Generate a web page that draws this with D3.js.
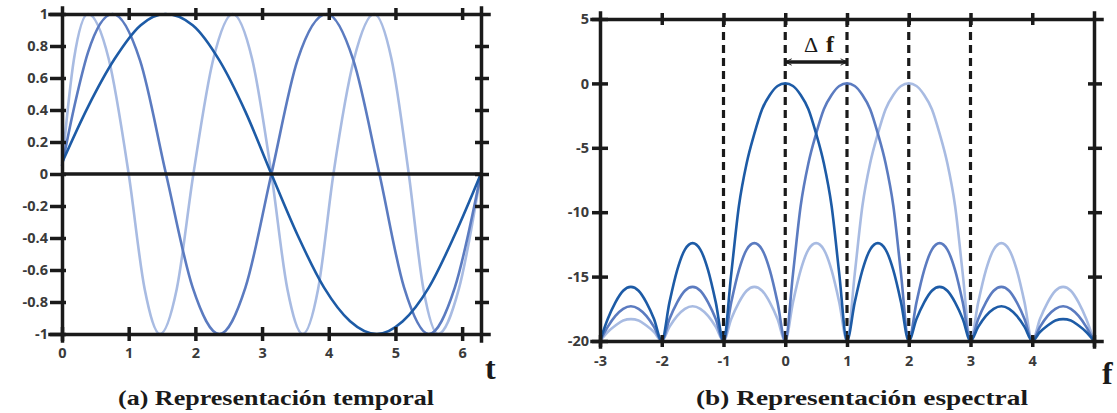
<!DOCTYPE html>
<html>
<head>
<meta charset="utf-8">
<script src="https://cdn.jsdelivr.net/npm/d3@7"></script>
<style>
  body { margin: 0; background: #fff; }
  .tick text { font-family: "Open Sans", "Liberation Sans", sans-serif; font-weight: 700; font-size: 14.5px; fill: #3a3a3a; }
  .serif { font-family: "Liberation Serif", "Times New Roman", Times, serif; font-weight: bold; fill: #1a1a1a; }
</style>
</head>
<body>
<svg id="chart" width="1117" height="413"></svg>
<script>
// ---- data: time domain ----
var darkT  = [0, 0.39, 0.79, 1.18, 1.55, 1.96, 2.36, 2.75, 3.14, 3.53, 3.93, 4.32, 4.72, 5.11, 5.50, 5.89, 6.28];
var darkV  = [0.07, 0.42, 0.72, 0.93, 1.0, 0.93, 0.71, 0.39, 0, -0.38, -0.71, -0.92, -1.0, -0.92, -0.71, -0.38, 0];
var medT   = [0, 0.2, 0.39, 0.76, 1.17, 1.56, 1.96, 2.36, 2.75, 3.14, 3.53, 3.97, 4.37, 4.76, 5.13, 5.5, 5.89, 6.28];
var medV   = [0.05, 0.45, 0.76, 1.0, 0.71, 0, -0.71, -1.0, -0.71, 0, 0.71, 1.0, 0.71, 0, -0.71, -1.0, -0.71, 0];
var lightT = [0, 0.18, 0.39, 0.7, 1.0, 1.24, 1.47, 1.72, 1.97, 2.27, 2.56, 2.85, 3.14, 3.38, 3.61, 3.84, 4.07, 4.38, 4.68, 4.94, 5.2, 5.42, 5.64, 5.95, 6.28];
var lightV = [0.05, 0.72, 1.0, 0.72, 0, -0.72, -1.0, -0.72, 0, 0.72, 1.0, 0.72, 0, -0.72, -1.0, -0.72, 0, 0.72, 1.0, 0.72, 0, -0.72, -1.0, -0.72, 0];

// ---- data: spectrum in dB ----
var freqs = [-3, -2.875, -2.75, -2.625, -2.5, -2.375, -2.25, -2.125, -2, -1.875, -1.75, -1.625, -1.5, -1.375, -1.25, -1.125,
             -1, -0.875, -0.75, -0.625, -0.5, -0.375, -0.25, -0.125, 0, 0.125, 0.25, 0.375, 0.5, 0.625, 0.75, 0.875,
             1, 1.125, 1.25, 1.375, 1.5, 1.625, 1.75, 1.875, 2, 2.125, 2.25, 2.375, 2.5, 2.625, 2.75, 2.875,
             3, 3.125, 3.25, 3.375, 3.5, 3.625, 3.75, 3.875, 4, 4.125, 4.25, 4.375, 4.5, 4.625, 4.75, 4.875, 5];
var specDark = [-20, -18.3, -17.0, -16.1, -15.8, -16.1, -17.0, -18.3, -20, -17.0, -14.5, -12.9, -12.4, -12.9, -14.5, -17.0,
                -20, -14.8, -9.5, -6.2, -3.9, -2.0, -0.9, -0.2, 0, -0.2, -0.9, -2.0, -3.9, -6.2, -9.5, -14.8,
                -20, -17.0, -14.5, -12.9, -12.4, -12.9, -14.5, -17.0, -20, -18.3, -17.0, -16.1, -15.8, -16.1, -17.0, -18.3,
                -20, -18.9, -18.05, -17.5, -17.3, -17.5, -18.05, -18.9, -20, -19.3, -18.8, -18.4, -18.3, -18.4, -18.8, -19.3, -20];
var specMed  = [-20, -18.9, -18.05, -17.5, -17.3, -17.5, -18.05, -18.9, -20, -18.3, -17.0, -16.1, -15.8, -16.1, -17.0, -18.3,
                -20, -17.0, -14.5, -12.9, -12.4, -12.9, -14.5, -17.0, -20, -14.8, -9.5, -6.2, -3.9, -2.0, -0.9, -0.2,
                0, -0.2, -0.9, -2.0, -3.9, -6.2, -9.5, -14.8, -20, -17.0, -14.5, -12.9, -12.4, -12.9, -14.5, -17.0,
                -20, -18.3, -17.0, -16.1, -15.8, -16.1, -17.0, -18.3, -20, -18.9, -18.05, -17.5, -17.3, -17.5, -18.05, -18.9, -20];
var specLight = [-20, -19.3, -18.8, -18.4, -18.3, -18.4, -18.8, -19.3, -20, -18.9, -18.05, -17.5, -17.3, -17.5, -18.05, -18.9,
                 -20, -18.3, -17.0, -16.1, -15.8, -16.1, -17.0, -18.3, -20, -17.0, -14.5, -12.9, -12.4, -12.9, -14.5, -17.0,
                 -20, -14.8, -9.5, -6.2, -3.9, -2.0, -0.9, -0.2, 0, -0.2, -0.9, -2.0, -3.9, -6.2, -9.5, -14.8,
                 -20, -17.0, -14.5, -12.9, -12.4, -12.9, -14.5, -17.0, -20, -18.3, -17.0, -16.1, -15.8, -16.1, -17.0, -18.3, -20];

// ---- ticks ----
var yTicksL = [-1, -0.8, -0.6, -0.4, -0.2, 0, 0.2, 0.4, 0.6, 0.8, 1];
var xTicksL = [0, 1, 2, 3, 4, 5, 6];
var yTicksR = [-20, -15, -10, -5, 0, 5];
var xTicksR = [-3, -2, -1, 0, 1, 2, 3, 4, 5];
var xLabelsR = [-3, -2, -1, 0, 1, 2, 3, 4];
var dashedF = [-1, 0, 1, 2, 3];

var colDark = "#1d5ba6", colMed = "#5b7bc0", colLight = "#a8bbe2";
var ink = "#1a1a1a";

var svg = d3.select("#chart");

var xL = d3.scaleLinear().domain([0, 6.283]).range([62, 481]);
var yL = d3.scaleLinear().domain([-1, 1]).range([334, 14]);
var xR = d3.scaleLinear().domain([-3, 5]).range([600, 1094]);
var yR = d3.scaleLinear().domain([-20, 5]).range([341, 19]);

function fmt(d) { return String(d); }

// draws an axis whose ticks cross the line: out = outside length, inn = inside length
function crossAxis(axis, tx, ty, out, inn, orient, labels) {
  var g = svg.append("g").attr("transform", "translate(" + tx + "," + ty + ")")
    .call(axis.tickSizeOuter(0).tickSize(out));
  g.select(".domain").attr("stroke", ink).attr("stroke-width", 3.5).attr("stroke-linecap", "square");
  g.selectAll(".tick line").attr("stroke", ink).attr("stroke-width", 3.5);
  if (orient == "left") g.selectAll(".tick line").attr("x1", inn);
  if (orient == "right") g.selectAll(".tick line").attr("x1", -inn);
  if (orient == "bottom") g.selectAll(".tick line").attr("y1", -inn);
  if (orient == "top") g.selectAll(".tick line").attr("y1", inn);
  if (!labels) g.selectAll(".tick text").remove();
  return g;
}

/* ---------- (a) time domain ---------- */
var lineL = d3.line().curve(d3.curveMonotoneX);

function timeSeries(ts, vs) { return ts.map(function (t, i) { return [xL(t), yL(vs[i])]; }); }

[[lightT, lightV, colLight], [medT, medV, colMed], [darkT, darkV, colDark]].forEach(function (s) {
  svg.append("path")
    .attr("d", lineL(timeSeries(s[0], s[1])))
    .attr("fill", "none")
    .attr("stroke", s[2])
    .attr("stroke-width", 2.6);
});

// zero line
svg.append("line")
  .attr("x1", xL(0)).attr("x2", xL(6.283))
  .attr("y1", yL(0)).attr("y2", yL(0))
  .attr("stroke", ink).attr("stroke-width", 3.5);

var gl = crossAxis(d3.axisLeft(yL).tickValues(yTicksL).tickFormat(fmt), xL(0), 0, 12, 4, "left", true);
gl.selectAll(".tick text").attr("x", -14);
var gb = crossAxis(d3.axisBottom(xL).tickValues(xTicksL).tickFormat(fmt), 0, yL(-1), 7, 7, "bottom", true);
gb.selectAll(".tick text").attr("y", 14);
crossAxis(d3.axisTop(xL).tickValues(xTicksL.slice(1)), 0, yL(1), 6, 6, "top", false);
crossAxis(d3.axisRight(yL).tickValues(yTicksL.slice(1, -1)), xL(6.283), 0, 8, 6, "right", false);

svg.append("text").attr("class", "serif").attr("x", 485).attr("y", 379)
  .attr("font-size", 32).text("t");

svg.append("text").attr("class", "serif").attr("x", 276).attr("y", 405).attr("text-anchor", "middle")
  .attr("font-size", 22)
  .attr("textLength", 316).attr("lengthAdjust", "spacingAndGlyphs")
  .text("(a) Representación temporal");

/* ---------- (b) spectrum ---------- */
dashedF.forEach(function (f) {
  svg.append("line")
    .attr("x1", xR(f)).attr("x2", xR(f))
    .attr("y1", yR(5)).attr("y2", yR(-20))
    .attr("stroke", ink).attr("stroke-width", 3.2)
    .attr("stroke-dasharray", "8,5");
});

var lineR = d3.line()
  .x(function (d) { return xR(d[0]); })
  .y(function (d) { return yR(d[1]); })
  .curve(d3.curveMonotoneX);

[[specLight, colLight], [specMed, colMed], [specDark, colDark]].forEach(function (s) {
  svg.append("path")
    .attr("d", lineR(freqs.map(function (f, i) { return [f, s[0][i]]; })))
    .attr("fill", "none")
    .attr("stroke", s[1])
    .attr("stroke-width", 2.6);
});

var gl2 = crossAxis(d3.axisLeft(yR).tickValues(yTicksR).tickFormat(fmt), xR(-3), 0, 8, 8, "left", true);
gl2.selectAll(".tick text").attr("x", -11);
var gb2 = crossAxis(d3.axisBottom(xR).tickValues(xTicksR).tickFormat(function (d) { return xLabelsR.indexOf(d) >= 0 ? String(d) : ""; }),
  0, yR(-20), 6, 6, "bottom", true);
gb2.selectAll(".tick text").attr("y", 15);
crossAxis(d3.axisTop(xR).tickValues(xTicksR.slice(1, -1)), 0, yR(5), 6, 6, "top", false);
crossAxis(d3.axisRight(yR).tickValues(yTicksR.slice(1, -1)), xR(5), 0, 8, 6, "right", false);

// delta f annotation
var defs = svg.append("defs");
defs.append("marker").attr("id", "chev")
  .attr("viewBox", "0 0 10 10").attr("refX", 9).attr("refY", 5)
  .attr("markerWidth", 8).attr("markerHeight", 8).attr("markerUnits", "userSpaceOnUse")
  .attr("orient", "auto-start-reverse")
  .append("path").attr("d", "M1,1 L9,5 L1,9").attr("fill", "none").attr("stroke", ink).attr("stroke-width", 1.2);

svg.append("line")
  .attr("x1", xR(0)).attr("x2", xR(1)).attr("y1", 62).attr("y2", 62)
  .attr("stroke", ink).attr("stroke-width", 3.5)
  .attr("marker-start", "url(#chev)").attr("marker-end", "url(#chev)");

svg.append("text").attr("x", 804).attr("y", 52)
  .attr("font-family", "Liberation Serif, Times New Roman, serif").attr("font-size", 22).attr("fill", ink).text("Δ");
svg.append("text").attr("class", "serif").attr("x", 826).attr("y", 52)
  .attr("font-size", 24).style("fill", "#2a1a0a").text("f");

svg.append("text").attr("class", "serif").attr("x", 1102).attr("y", 384)
  .attr("font-size", 32).text("f");

svg.append("text").attr("class", "serif").attr("x", 862).attr("y", 405).attr("text-anchor", "middle")
  .attr("font-size", 22)
  .attr("textLength", 332).attr("lengthAdjust", "spacingAndGlyphs")
  .text("(b) Representación espectral");
</script>
</body>
</html>
